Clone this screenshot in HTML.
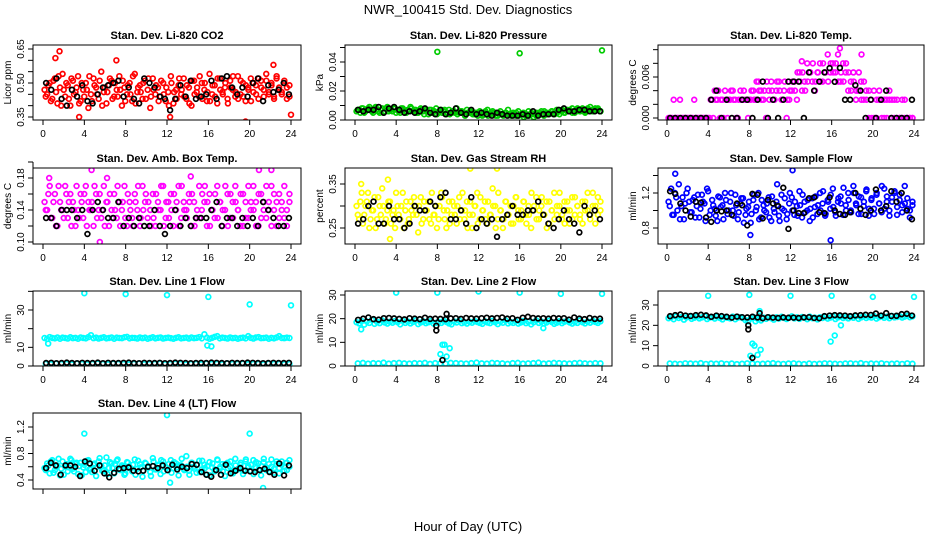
<!DOCTYPE html>
<html><head><meta charset="utf-8"><title>NWR_100415 Std. Dev. Diagnostics</title>
<style>
html,body{margin:0;padding:0;background:#fff;}
svg{display:block;font-family:"Liberation Sans",Arial,sans-serif;}
</style></head>
<body>
<svg id="chart" width="936" height="540" viewBox="0 0 936 540" xmlns="http://www.w3.org/2000/svg">
<rect x="0" y="0" width="936" height="540" fill="#fff"/>
<text x="468" y="14" text-anchor="middle" font-size="13">NWR_100415  Std. Dev. Diagnostics</text>
<text x="468" y="531" text-anchor="middle" font-size="13">Hour of Day (UTC)</text>
</svg>
<script>
const xTicks=[0,4,8,12,16,20,24];
const co2Vals=[0.47,0.45,0.50,0.43,0.52,0.41,0.48,0.54,0.44,0.49,0.40,0.51,0.46,0.53,0.42,0.47,0.50,0.39,0.45,0.52,0.48,0.43,0.55,0.46,0.41,0.49,0.51,0.44,0.47,0.53,0.40,0.48,0.45,0.50,0.42,0.54,0.46,0.49,0.43,0.51,0.47,0.39,0.52,0.45,0.48,0.44,0.50,0.42,0.46,0.53,0.41,0.47,0.49,0.45,0.52,0.43,0.48,0.40,0.51,0.46,0.44,0.50,0.47,0.42,0.54,0.45,0.49,0.41,0.52,0.46,0.48,0.43,0.51,0.47,0.44,0.53,0.45,0.50,0.42,0.48,0.52,0.46,0.49,0.43,0.51,0.47,0.54,0.45,0.50,0.44,0.52,0.48,0.46,0.50,0.43,0.49];
const co2Vals2=[0.44,0.49,0.42,0.51,0.46,0.53,0.40,0.47,0.50,0.43,0.52,0.45,0.48,0.41,0.50,0.44,0.47,0.53,0.42,0.49,0.45,0.51,0.40,0.48,0.46,0.52,0.43,0.50,0.44,0.47,0.51,0.42,0.49,0.45,0.53,0.41,0.48,0.46,0.50,0.43,0.52,0.44,0.47,0.49,0.42,0.51,0.45,0.48,0.40,0.50,0.46,0.43,0.52,0.47,0.44,0.49,0.41,0.51,0.45,0.48,0.53,0.43,0.50,0.46,0.42,0.49,0.44,0.52,0.47,0.45,0.50,0.41,0.48,0.53,0.46,0.43,0.51,0.44,0.49,0.47,0.42,0.50,0.45,0.52,0.48,0.44,0.51,0.46,0.49,0.43,0.53,0.47,0.45,0.51,0.48,0.44];
const co2ExtraH=[1.2,1.6,7.1,22.3,19.6,24,3.5,12.3];
const co2ExtraV=[0.61,0.64,0.60,0.58,0.33,0.36,0.35,0.35];
const co2Black=[0.50,0.47,0.52,0.43,0.40,0.47,0.44,0.49,0.42,0.41,0.45,0.48,0.49,0.50,0.51,0.44,0.48,0.43,0.41,0.52,0.50,0.48,0.44,0.43,0.38,0.43,0.49,0.44,0.51,0.43,0.44,0.45,0.51,0.43,0.52,0.53,0.48,0.45,0.48,0.44,0.50,0.52,0.42,0.49,0.46,0.47,0.50,0.45];
const presVals=[0.006,0.007,0.008,0.005,0.007,0.009,0.006,0.008,0.007,0.005,0.008,0.006,0.009,0.007,0.006,0.008,0.007,0.005,0.008,0.006,0.007,0.009,0.006,0.007,0.005,0.008,0.006,0.007,0.004,0.007,0.006,0.008,0.005,0.007,0.006,0.004,0.007,0.005,0.006,0.008,0.005,0.006,0.004,0.007,0.005,0.006,0.004,0.005,0.006,0.003,0.005,0.007,0.004,0.006,0.005,0.003,0.006,0.004,0.005,0.007,0.004,0.005,0.003,0.006,0.004,0.005,0.003,0.006,0.004,0.002,0.005,0.004,0.006,0.003,0.005,0.004,0.006,0.005,0.007,0.004,0.006,0.005,0.007,0.006,0.008,0.005,0.007,0.006,0.008,0.006,0.007,0.009,0.006,0.008,0.007,0.006];
const presVals2=[0.007,0.005,0.008,0.006,0.008,0.007,0.005,0.009,0.006,0.007,0.005,0.008,0.006,0.007,0.008,0.005,0.006,0.008,0.007,0.005,0.006,0.008,0.007,0.005,0.006,0.007,0.004,0.006,0.007,0.005,0.006,0.004,0.006,0.005,0.007,0.005,0.004,0.006,0.005,0.004,0.006,0.005,0.003,0.005,0.006,0.004,0.005,0.003,0.005,0.004,0.006,0.003,0.004,0.005,0.003,0.005,0.004,0.003,0.005,0.004,0.003,0.004,0.005,0.003,0.004,0.002,0.004,0.003,0.005,0.004,0.003,0.005,0.004,0.006,0.004,0.005,0.006,0.004,0.005,0.006,0.007,0.005,0.006,0.007,0.005,0.006,0.008,0.006,0.007,0.005,0.008,0.007,0.006,0.007,0.008,0.006];
const presExtraH=[8,16,24];
const presExtraV=[0.047,0.046,0.048];
const presBlack=[0.007,0.006,0.007,0.007,0.009,0.005,0.008,0.009,0.007,0.005,0.006,0.005,0.006,0.008,0.005,0.004,0.007,0.004,0.005,0.008,0.005,0.004,0.007,0.004,0.005,0.004,0.003,0.005,0.004,0.003,0.003,0.003,0.004,0.003,0.006,0.003,0.004,0.004,0.004,0.007,0.008,0.006,0.006,0.007,0.007,0.006,0.006,0.006];
const tempVals=[0,0,0.00267,0,0,0,0,0,0,0,0.00267,0,0,0,0,0,0,0.00267,0.004,0.00267,0,0.00267,0.004,0,0.00267,0.004,0.00267,0,0.004,0.00267,0.00267,0,0.00267,0.004,0.00267,0.00533,0.004,0.00267,0,0.004,0.00533,0.00267,0.004,0.00533,0.00267,0.004,0,0.00267,0.004,0.00533,0.00267,0.00667,0.004,0.00533,0.008,0.00667,0.00533,0.004,0.00667,0.008,0.00533,0.00667,0.0093,0.00667,0.008,0.00667,0.0093,0.00533,0.008,0.00667,0.004,0.00533,0.00667,0.00267,0.004,0.00533,0.00267,0.004,0,0.00267,0.004,0,0.00267,0.00267,0,0.00267,0.004,0,0.00267,0,0,0.00267,0,0,0,0];
const tempVals2=[0,0,0,0,0.00267,0,0,0,0,0,0,0,0,0,0,0,0.00267,0,0.00267,0.004,0.00267,0,0.00267,0.00267,0.004,0.00267,0,0.00267,0.00267,0.004,0.00267,0.00267,0.004,0.00267,0.00533,0.004,0.00267,0.004,0.00533,0.00267,0.004,0.00267,0.00533,0.004,0.00267,0.00533,0.00267,0.004,0.00533,0.004,0.00667,0.00533,0.00667,0.004,0.00533,0.00667,0.008,0.00533,0.00667,0.00533,0.008,0.00667,0.00533,0.008,0.00667,0.008,0.00533,0.00667,0.00533,0.008,0.00667,0.004,0.00533,0.004,0.00667,0.00267,0.00533,0.00267,0.004,0,0,0.00267,0.004,0,0.00267,0,0.00267,0.00267,0,0.00267,0,0,0.00267,0,0,0];
const tempExtraH=[16.8,18.9,13.1];
const tempExtraV=[0.0102,0.0093,0.0083];
const tempBlack=[0,0,0,0,0,0,0,0,0.00267,0.004,0,0.00267,0,0,0.00267,0.00267,0,0.00267,0.00533,0,0.00267,0,0.00267,0.00533,0.00533,0.00533,0,0.00667,0.004,0.00533,0.00667,0.0073,0.0053,0.00733,0.00267,0.00267,0.0048,0.004,0,0.00267,0,0.00267,0.004,0,0,0,0,0.00267];
const ambVals=[0.15,0.14,0.17,0.13,0.16,0.12,0.15,0.14,0.17,0.13,0.16,0.15,0.12,0.14,0.16,0.13,0.17,0.15,0.14,0.12,0.16,0.14,0.13,0.17,0.15,0.12,0.14,0.16,0.13,0.15,0.14,0.17,0.12,0.15,0.13,0.16,0.14,0.12,0.17,0.15,0.13,0.14,0.16,0.12,0.15,0.14,0.17,0.13,0.15,0.16,0.12,0.14,0.17,0.13,0.15,0.14,0.16,0.12,0.15,0.13,0.17,0.14,0.15,0.12,0.16,0.14,0.13,0.17,0.15,0.12,0.14,0.16,0.13,0.15,0.17,0.14,0.12,0.16,0.15,0.13,0.14,0.17,0.15,0.12,0.16,0.14,0.13,0.15,0.17,0.14,0.12,0.16,0.15,0.13,0.14,0.16];
const ambVals2=[0.14,0.16,0.13,0.15,0.12,0.17,0.14,0.13,0.16,0.15,0.12,0.14,0.17,0.13,0.15,0.16,0.12,0.14,0.15,0.17,0.13,0.16,0.14,0.12,0.15,0.16,0.13,0.14,0.17,0.12,0.15,0.13,0.16,0.14,0.12,0.15,0.17,0.13,0.14,0.16,0.15,0.12,0.13,0.16,0.14,0.17,0.12,0.15,0.13,0.14,0.16,0.15,0.12,0.17,0.14,0.13,0.15,0.16,0.12,0.14,0.13,0.16,0.17,0.15,0.12,0.14,0.16,0.13,0.15,0.14,0.17,0.12,0.16,0.13,0.15,0.14,0.16,0.12,0.13,0.17,0.15,0.14,0.12,0.16,0.13,0.15,0.17,0.14,0.12,0.16,0.15,0.13,0.14,0.17,0.12,0.15];
const ambExtraH=[0.6,4.7,6.2,13.3,14.3,20.9,22.1,23.8,5.5];
const ambExtraV=[0.18,0.19,0.18,0.196,0.182,0.19,0.19,0.20,0.10];
const ambBlack=[0.13,0.13,0.12,0.14,0.14,0.14,0.13,0.14,0.11,0.14,0.15,0.14,0.13,0.13,0.15,0.12,0.13,0.12,0.13,0.12,0.12,0.14,0.12,0.11,0.12,0.14,0.12,0.13,0.12,0.13,0.13,0.13,0.14,0.15,0.12,0.13,0.13,0.12,0.13,0.12,0.13,0.12,0.15,0.14,0.13,0.12,0.12,0.13];
const rhVals=[0.30,0.27,0.33,0.28,0.31,0.25,0.29,0.32,0.27,0.30,0.34,0.26,0.29,0.31,0.28,0.25,0.30,0.27,0.33,0.29,0.26,0.31,0.28,0.30,0.24,0.32,0.27,0.29,0.31,0.26,0.28,0.30,0.27,0.33,0.29,0.25,0.31,0.28,0.30,0.26,0.32,0.29,0.27,0.31,0.28,0.25,0.30,0.33,0.27,0.29,0.31,0.26,0.28,0.34,0.30,0.27,0.29,0.25,0.31,0.28,0.30,0.26,0.32,0.29,0.27,0.31,0.28,0.30,0.25,0.29,0.32,0.27,0.30,0.28,0.31,0.26,0.29,0.33,0.28,0.30,0.27,0.31,0.29,0.26,0.32,0.28,0.30,0.27,0.31,0.29,0.33,0.28,0.30,0.26,0.32,0.29];
const rhVals2=[0.28,0.31,0.26,0.30,0.33,0.27,0.29,0.25,0.32,0.28,0.30,0.27,0.31,0.26,0.29,0.33,0.28,0.30,0.25,0.31,0.27,0.29,0.32,0.28,0.30,0.26,0.31,0.29,0.27,0.33,0.28,0.25,0.30,0.32,0.27,0.29,0.26,0.31,0.28,0.30,0.27,0.33,0.29,0.25,0.31,0.28,0.30,0.26,0.32,0.29,0.27,0.31,0.28,0.30,0.25,0.33,0.29,0.27,0.31,0.28,0.26,0.30,0.32,0.27,0.29,0.31,0.26,0.28,0.33,0.30,0.27,0.29,0.32,0.28,0.25,0.31,0.29,0.27,0.30,0.33,0.28,0.26,0.31,0.29,0.27,0.32,0.30,0.28,0.26,0.31,0.29,0.27,0.33,0.30,0.28,0.31];
const rhExtraH=[0.6,3.2,11.2,13.8,3.4];
const rhExtraV=[0.35,0.36,0.385,0.385,0.225];
const rhBlack=[0.26,0.27,0.30,0.31,0.26,0.26,0.30,0.27,0.27,0.25,0.26,0.30,0.29,0.29,0.31,0.30,0.32,0.33,0.27,0.27,0.29,0.26,0.32,0.25,0.27,0.26,0.27,0.23,0.27,0.28,0.30,0.28,0.28,0.29,0.29,0.31,0.28,0.26,0.25,0.27,0.29,0.27,0.26,0.24,0.30,0.28,0.29,0.27];
const flowVals=[1.10,1.25,0.95,1.15,1.30,1.05,0.90,1.20,1.10,0.98,1.15,1.05,0.92,1.18,1.08,1.25,0.95,1.12,1.02,0.88,1.15,1.06,1.20,0.96,1.10,1.00,1.18,0.90,1.08,1.14,0.95,1.04,0.86,1.12,1.00,1.20,0.92,1.06,0.98,1.15,0.88,1.02,1.10,0.94,1.18,1.00,0.90,1.08,1.15,0.95,1.05,1.22,0.92,1.10,1.00,0.88,1.14,1.04,0.96,1.20,1.08,0.94,1.12,1.02,1.25,0.98,1.10,1.16,0.95,1.06,1.20,1.00,1.28,1.08,0.96,1.15,1.05,1.22,0.94,1.12,1.02,1.18,1.08,0.98,1.25,1.10,1.00,1.15,1.20,0.95,1.12,1.06,1.28,1.02,0.92,1.10];
const flowVals2=[1.05,0.95,1.20,1.00,0.90,1.15,1.08,1.25,0.98,1.12,0.92,1.18,1.02,1.10,0.88,1.22,1.00,1.06,0.94,1.16,1.04,0.90,1.12,1.00,1.20,0.94,1.06,0.98,1.14,0.86,1.02,1.10,0.96,1.18,1.04,0.90,1.12,1.00,1.08,0.92,1.16,0.98,1.06,0.88,1.02,1.14,0.96,1.20,1.00,1.10,0.94,1.06,1.18,0.98,1.12,1.02,0.92,1.16,1.06,1.00,1.22,0.96,1.10,1.18,1.04,0.94,1.14,1.08,1.26,1.00,1.12,0.98,1.20,1.06,1.16,0.96,1.10,1.24,1.02,1.14,0.96,1.20,1.08,1.28,1.02,1.16,0.94,1.10,1.22,1.04,1.18,0.98,1.08,1.14,1.00,1.06];
const flowExtraH=[0.8,10.7,12.2,15.9,8.1];
const flowExtraV=[1.42,1.3,1.46,0.66,0.72];
const flowBlack=[1.22,1.19,1.08,1.00,0.93,1.10,1.09,0.92,0.87,1.00,0.99,1.00,0.95,1.08,1.06,0.83,1.19,1.18,0.91,1.12,1.08,1.05,1.26,0.79,1.00,0.97,0.97,1.14,1.15,0.98,0.97,1.15,1.00,0.96,0.95,0.98,1.20,1.02,0.95,1.00,1.24,1.00,1.05,1.22,1.10,1.20,1.00,0.90];
const line1Vals=[15,14.5,15.5,15,14.8,15.3,14.6,15.2,15,14.7,15.4,14.9,15.1,14.6,15.3,15,14.8,15.5,16.5,14.9,15.2,14.7,15.1,15.4,14.8,15,15.3,14.6,15.2,15,14.9,15.4,15.6,14.8,15.1,15,14.7,15.3,14.9,15.2,14.6,15,15.4,14.8,15.1,15.3,14.7,15,15.2,14.9,14.6,15.1,15.4,14.8,15,15.2,14.7,15.3,14.9,15.1,15.5,14.8,17,15.2,14.6,15.1,15.6,16,14.8,15.2,15,14.7,15.3,14.9,15.1,14.6,15,15.2,14.8,16,15.1,14.7,15.3,15.5,14.9,15,15.2,14.6,15.1,14.8,15.3,16,15,14.9,15.2,15];
const line1Low=[1.2,1.0,1.3,1.1,1.2,0.9,1.3,1.1,1.0,1.2,1.4,1.1,1.0,1.3,1.2,1.1,0.9,1.2,1.3,1.0,1.1,1.2,1.4,1.0,1.1,1.3,1.2,0.9,1.1,1.2,1.0,1.3,1.1,1.2,1.0,1.4,1.1,1.2,1.3,1.0,1.1,1.2,0.9,1.3,1.1,1.2,1.0,1.1];
const line1ExtraH=[0.5,4,8,12,16,20,24,15.9,16.3];
const line1ExtraV=[12,39,38.5,38,37,33,32.5,11,10.5];
const line1Black=[1.6,1.7,1.5,1.6,1.8,1.6,1.5,1.7,1.6,1.6,1.8,1.5,1.7,1.6,1.6,1.7,1.8,1.6,1.5,1.7,1.6,1.6,1.7,1.5,1.6,1.8,1.7,1.6,1.5,1.6,1.7,1.6,1.8,1.7,1.6,1.5,1.7,1.6,1.6,1.8,1.7,1.6,1.5,1.6,1.7,1.6,1.6,1.7];
const line2Vals=[18.5,18,19,17.5,18.8,18.2,19.5,17.8,18.6,18.1,19.2,18.4,17.9,18.7,18.3,19,18.5,17.6,19.1,18.2,18.8,18,18.6,19.3,17.7,18.4,18.9,18.1,18.5,19,17.9,18.3,18.7,18.2,19.1,18.6,18,17.6,18.8,18.4,19.2,18.1,18.5,17.9,18.7,18.3,19,18.6,18.2,17.8,18.9,18.4,18.1,19.1,18.5,17.7,18.8,18.3,19.2,18,18.6,18.2,18.9,17.9,18.4,19,18.1,18.7,17.6,18.5,19.3,18.2,18.8,18,18.4,19.1,18.6,17.8,18.3,18.9,18.1,18.7,19,18.4,17.9,18.6,18.2,19.2,18.5,18,18.8,18.3,19.1,18.6,18.2,18.9];
const line2Low=[1.1,1.3,1.0,1.2,1.1,1.4,1.0,1.2,1.3,1.1,1.0,1.2,1.1,1.3,0.9,1.2,1.1,1.0,1.3,1.2,1.1,1.0,1.2,1.4,1.1,1.0,1.3,1.2,1.1,0.9,1.2,1.3,1.0,1.1,1.2,1.4,1.0,1.1,1.3,1.2,1.1,1.0,1.2,1.3,1.1,1.0,1.2,1.1];
const line2ExtraH=[4,8,12,16,20,24,8.3,8.5,8.7,8.9,9.2,0.6,18.3];
const line2ExtraV=[31,31,31.5,31,30.5,30.5,5,9,9,4,7.5,15.5,16];
const line2Black=[19.5,20,20.5,19.8,19.6,20.2,20.3,20.1,19.9,19.7,20.2,20,19.8,20.4,19.9,20,19.9,19.8,20.1,20.2,19.9,20.3,20.1,20,20.2,20.4,20.1,20.3,20.5,20,20.2,19.5,20.4,20.8,20.3,20.1,20.2,20,20.3,20.1,20.2,19.6,20.5,20,19.8,20.3,19.9,20];
const line2BlackExtraH=[7.9,7.9,8.5,8.9];
const line2BlackExtraV=[17,15,2.5,22];
const line3Vals=[23.5,24,23,24.3,23.6,24.1,22.8,23.9,24.4,23.2,23.7,24.2,23.4,23.9,24.5,23.1,23.8,24,23.3,24.2,23.6,22.9,24.1,23.7,23.4,24.3,23,23.8,24,23.5,22.5,22,23.4,24.1,23.6,23,22.4,23.8,23.2,24,23.5,22.8,23.9,23.3,24.2,23.6,23.1,23.8,24.4,23.4,23.9,23.2,24.1,23.7,23,24.3,23.5,23.8,22.9,24,23.6,24.2,23.3,23.8,24.5,23.1,23.9,24.3,23.6,24,23.4,24.2,23.7,24.5,23.2,23.9,24.4,23.6,24.1,23.8,24.6,23.3,24,24.4,23.7,24.2,23.5,24.6,23.9,24.1,24.5,23.8,24.3,24.7,24,24.4];
const line3Low=[1.2,1.1,1.0,1.3,1.2,1.1,1.4,1.0,1.2,1.1,1.3,1.0,1.2,0.9,1.1,1.3,1.2,1.0,1.1,1.2,1.4,1.1,1.0,1.2,1.3,1.1,0.9,1.2,1.0,1.1,1.3,1.2,1.1,1.0,1.2,1.3,1.1,1.4,1.0,1.2,1.1,1.3,1.0,1.1,1.2,1.0,1.3,1.1];
const line3ExtraH=[4,8,12,16,20,24,8.1,8.3,8.5,8.8,9.1,15.9,16.3,16.9,9.0,8.6];
const line3ExtraV=[34.5,35,34.5,34.5,34,34,5,11,10,5.5,8,12,15,20,27,22];
const line3Black=[24.5,25,25.3,24.8,24.6,25,25.2,24.9,24.2,24.8,24.5,24.2,23.8,24.3,24,23.9,24.2,23.9,23.5,24,23.8,23.6,23.9,23.7,23.8,23.6,23.9,24,23.6,23.5,24.5,24.8,25,24.9,24.8,24.5,24.9,25,25.2,25.1,25.8,24.8,26,24.6,24.7,25.5,25.7,24.8];
const line3BlackExtraH=[7.9,7.9,8.3,9.0];
const line3BlackExtraV=[20,18,4,26];
const line4Vals=[0.58,0.65,0.50,0.70,0.55,0.62,0.47,0.68,0.60,0.53,0.72,0.57,0.64,0.49,0.66,0.59,0.52,0.70,0.56,0.63,0.46,0.68,0.61,0.54,0.74,0.58,0.65,0.50,0.69,0.56,0.62,0.48,0.67,0.60,0.53,0.71,0.57,0.64,0.45,0.66,0.59,0.52,0.73,0.56,0.63,0.49,0.68,0.60,0.55,0.70,0.58,0.65,0.47,0.62,0.57,0.76,0.54,0.66,0.60,0.51,0.69,0.56,0.63,0.48,0.67,0.59,0.53,0.71,0.57,0.64,0.46,0.66,0.60,0.52,0.72,0.56,0.63,0.49,0.68,0.61,0.54,0.70,0.58,0.65,0.47,0.67,0.59,0.53,0.71,0.57,0.64,0.50,0.68,0.60,0.55,0.70];
const line4Vals2=[0.55,0.62,0.68,0.51,0.60,0.72,0.57,0.48,0.64,0.59,0.70,0.53,0.66,0.61,0.47,0.63,0.69,0.56,0.52,0.65,0.60,0.73,0.54,0.62,0.49,0.67,0.58,0.64,0.71,0.55,0.60,0.50,0.66,0.57,0.63,0.48,0.69,0.59,0.54,0.65,0.61,0.46,0.68,0.56,0.62,0.70,0.53,0.58,0.64,0.51,0.67,0.59,0.62,0.72,0.55,0.60,0.48,0.66,0.57,0.63,0.52,0.69,0.58,0.61,0.47,0.65,0.56,0.70,0.60,0.53,0.64,0.58,0.68,0.50,0.62,0.57,0.66,0.54,0.71,0.59,0.63,0.49,0.67,0.56,0.61,0.72,0.55,0.64,0.60,0.51,0.68,0.58,0.63,0.54,0.66,0.60];
const line4ExtraH=[4,12,20,21.3,12.3];
const line4ExtraV=[1.1,1.38,1.1,0.28,0.36];
const line4Black=[0.58,0.66,0.62,0.48,0.62,0.62,0.60,0.46,0.68,0.65,0.54,0.62,0.50,0.44,0.51,0.57,0.58,0.59,0.54,0.53,0.54,0.60,0.61,0.58,0.62,0.55,0.63,0.56,0.60,0.58,0.64,0.63,0.52,0.48,0.45,0.55,0.48,0.63,0.50,0.54,0.58,0.54,0.53,0.52,0.55,0.57,0.52,0.48,0.65,0.47,0.62];

const cols=[{l:33,r:301,x0:43,x24:291},{l:345,r:612,x0:355,x24:602},{l:658,r:924,x0:667,x24:914}];
const rows=[{t:45,b:120},{t:168,b:244},{t:291,b:366},{t:413,b:489}];
const panels=[
 {id:'co2',title:'Stan. Dev. Li-820 CO2',yl:'Licor ppm',c:0,r:0,col:'#ff0000',v0:0.35,p0:117,v1:0.65,p1:49,ticks:[0.35,0.40,0.45,0.50,0.55,0.60,0.65],labels:['0.35','0.50','0.65'],labVals:[0.35,0.50,0.65],vals:[co2Vals,co2Vals2],eh:co2ExtraH,ev:co2ExtraV,blk:co2Black},
 {id:'pressure',title:'Stan. Dev. Li-820 Pressure',yl:'kPa',c:1,r:0,col:'#00cc00',v0:0,p0:120,v1:0.04,p1:62,ticks:[0,0.01,0.02,0.03,0.04,0.05],labels:['0.00','0.02','0.04'],labVals:[0,0.02,0.04],vals:[presVals,presVals2],eh:presExtraH,ev:presExtraV,blk:presBlack},
 {id:'temp',title:'Stan. Dev. Li-820 Temp.',yl:'degrees C',c:2,r:0,col:'#ff00ff',v0:0,p0:118,v1:0.006,p1:77,ticks:[0,0.002,0.004,0.006,0.008,0.010],labels:['0.000','0.006'],labVals:[0,0.006],vals:[tempVals,tempVals2],eh:tempExtraH,ev:tempExtraV,blk:tempBlack},
 {id:'amb-temp',title:'Stan. Dev. Amb. Box Temp.',yl:'degrees C',c:0,r:1,col:'#ff00ff',v0:0.10,p0:242,v1:0.18,p1:178,ticks:[0.10,0.12,0.14,0.16,0.18,0.20],labels:['0.10','0.14','0.18'],labVals:[0.10,0.14,0.18],vals:[ambVals,ambVals2],eh:ambExtraH,ev:ambExtraV,blk:ambBlack},
 {id:'rh',title:'Stan. Dev. Gas Stream RH',yl:'percent',c:1,r:1,col:'#ffff00',v0:0.25,p0:228,v1:0.35,p1:184,ticks:[0.25,0.30,0.35],labels:['0.25','0.35'],labVals:[0.25,0.35],vals:[rhVals,rhVals2],eh:rhExtraH,ev:rhExtraV,blk:rhBlack},
 {id:'sample-flow',title:'Stan. Dev. Sample Flow',yl:'ml/min',c:2,r:1,col:'#0000ff',v0:0.8,p0:228,v1:1.2,p1:193,ticks:[0.8,1.0,1.2,1.4],labels:['0.8','1.2'],labVals:[0.8,1.2],vals:[flowVals,flowVals2],eh:flowExtraH,ev:flowExtraV,blk:flowBlack},
 {id:'line1',title:'Stan. Dev. Line 1 Flow',yl:'ml/min',c:0,r:2,col:'#00ffff',v0:0,p0:366,v1:30,p1:310,ticks:[0,10,20,30,40],labels:['0','10','30'],labVals:[0,10,30],vals:[line1Vals,line1Low],eh:line1ExtraH,ev:line1ExtraV,blk:line1Black},
 {id:'line2',title:'Stan. Dev. Line 2 Flow',yl:'ml/min',c:1,r:2,col:'#00ffff',v0:0,p0:366,v1:30,p1:295,ticks:[0,10,20,30],labels:['0','10','20','30'],labVals:[0,10,20,30],vals:[line2Vals,line2Low],eh:line2ExtraH,ev:line2ExtraV,blk:line2Black,beh:line2BlackExtraH,bev:line2BlackExtraV},
 {id:'line3',title:'Stan. Dev. Line 3 Flow',yl:'ml/min',c:2,r:2,col:'#00ffff',v0:0,p0:366,v1:30,p1:305,ticks:[0,10,20,30],labels:['0','10','20','30'],labVals:[0,10,20,30],vals:[line3Vals,line3Low],eh:line3ExtraH,ev:line3ExtraV,blk:line3Black,beh:line3BlackExtraH,bev:line3BlackExtraV},
 {id:'line4',title:'Stan. Dev. Line 4 (LT) Flow',yl:'ml/min',c:0,r:3,col:'#00ffff',v0:0.4,p0:480,v1:1.2,p1:427,ticks:[0.4,0.6,0.8,1.0,1.2],labels:['0.4','0.8','1.2'],labVals:[0.4,0.8,1.2],vals:[line4Vals,line4Vals2],eh:line4ExtraH,ev:line4ExtraV,blk:line4Black}
];
const NS='http://www.w3.org/2000/svg';
const svg=document.getElementById('chart');
function mk(tag,attrs,parent){const e=document.createElementNS(NS,tag);for(const k in attrs)e.setAttribute(k,attrs[k]);(parent||svg).appendChild(e);return e;}
function hourAt(i,n,k){return 0.15+k*0.12+i*(23.7-k*0.12)/(n-1);}
panels.forEach(p=>{
  const C=cols[p.c],R=rows[p.r];
  const g=mk('g',{});
  
  
  const xs=h=>C.x0+(C.x24-C.x0)*h/24;
  const ys=v=>p.p0+(p.p1-p.p0)*(v-p.v0)/(p.v1-p.v0);
  const clipId='clip-'+p.id;
  const cp=mk('clipPath',{id:clipId},g);
  mk('rect',{x:C.l,y:R.t,width:C.r-C.l,height:R.b-R.t},cp);
  const t=mk('text',{x:(C.l+C.r)/2,y:R.t-6,'text-anchor':'middle','font-size':'11','font-weight':'bold'},g);
  t.textContent=p.title;
  
  
  const pts=mk('g',{'clip-path':'url(#'+clipId+')',fill:'none','stroke-width':'1.7'},g);
  
  
  p.vals.forEach((arr,k)=>arr.forEach((v,i)=>{
    const c=mk('circle',{cx:xs(hourAt(i,arr.length,k)),cy:ys(v),r:2.4,stroke:p.col},pts);
    
    
  }));
  p.eh.forEach((h,i)=>{
    const c=mk('circle',{cx:xs(h),cy:ys(p.ev[i]),r:2.4,stroke:p.col},pts);
    
    
  });
  p.blk.forEach((v,i)=>{
    const c=mk('circle',{cx:xs(0.3+i*23.5/(p.blk.length-1)),cy:ys(v),r:2.4,stroke:'#000'},pts);
    
    
  });
  if(p.beh)p.beh.forEach((h,i)=>{
    const c=mk('circle',{cx:xs(h),cy:ys(p.bev[i]),r:2.4,stroke:'#000'},pts);
    
    
  });
  const box=mk('rect',{x:C.l,y:R.t,width:C.r-C.l,height:R.b-R.t,fill:'none',stroke:'#000','stroke-width':'1'},g);
  
  
  const ax=mk('g',{stroke:'#000','stroke-width':'1'},g);
  
  
  mk('line',{x1:xs(0),x2:xs(24),y1:R.b,y2:R.b},ax);
  xTicks.forEach(tk=>{
    mk('line',{x1:xs(tk),x2:xs(tk),y1:R.b,y2:R.b+5},ax);
    if(p.r<3){
      const l=mk('text',{x:xs(tk),y:R.b+17,'text-anchor':'middle','font-size':'10',stroke:'none',fill:'#000'},g);
      l.textContent=tk;
      
      
    }
  });
  const ay=mk('g',{stroke:'#000','stroke-width':'1'},g);
  
  
  mk('line',{x1:C.l,x2:C.l,y1:ys(p.ticks[0]),y2:ys(p.ticks[p.ticks.length-1])},ay);
  p.ticks.forEach(tk=>mk('line',{x1:C.l-5,x2:C.l,y1:ys(tk),y2:ys(tk)},ay));
  p.labels.forEach((lb,i)=>{
    const y=ys(p.labVals[i]),x=C.l-9;
    const l=mk('text',{x:x,y:y,'text-anchor':'middle','font-size':'10',transform:'rotate(-90 '+x+' '+y+')'},g);
    l.textContent=lb;
    
    
  });
  const yx=C.l-22,yy=(R.t+R.b)/2;
  const yt=mk('text',{x:yx,y:yy,'text-anchor':'middle','font-size':'10',transform:'rotate(-90 '+yx+' '+yy+')'},g);
  yt.textContent=p.yl;
  
  
});
</script>
</body></html>
